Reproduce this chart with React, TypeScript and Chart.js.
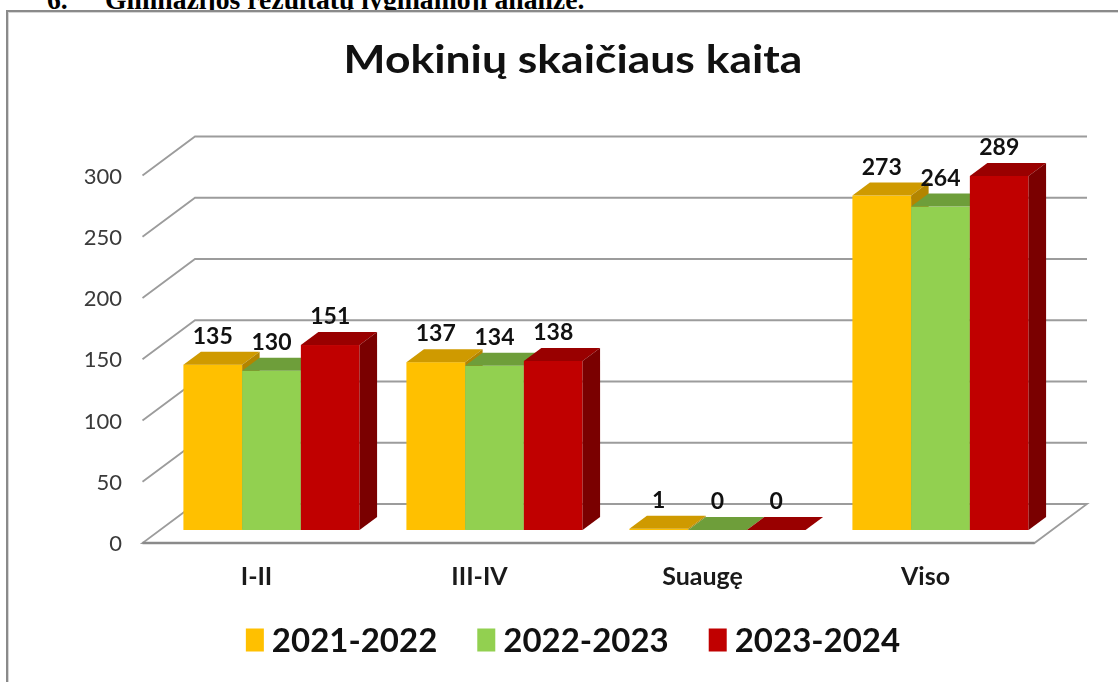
import React, { useEffect, useRef } from "react";
import { Chart, registerables } from "chart.js";

Chart.register(...registerables);

const categories = ["I-II", "III-IV", "Suaugę", "Viso"];
const series2021 = [135, 137, 1, 273];
const series2022 = [130, 134, 0, 264];
const series2023 = [151, 138, 0, 289];
const seriesLabels = ["2021-2022", "2022-2023", "2023-2024"];
const yTicks = [0, 50, 100, 150, 200, 250, 300];
const titleText = "Mokinių skaičiaus kaita";
const headerText = "Gimnazijos rezultatų lyginamoji analizė.";

const frontColors = ["#FFC000", "#92D050", "#C00000"];
const topColors = ["#CF9A00", "#6E9E3A", "#990000"];
const sideColors = ["#B38500", "#5C8A2C", "#7A0000"];

// 3D projection parameters (pixels)
const BAR_DX = 17.5;
const BAR_DY = 13;
const FRONT_DX = -17.5;
const FRONT_DY = 13;
const BACK_DX = 35;
const BACK_DY = -26;
const CENTER_X = 573;

const FONT = "Lato, 'Open Sans', sans-serif";

const bars3d = {
  id: "bars3d",
  beforeDatasetsDraw(chart: any) {
    const ctx = chart.ctx;
    const area = chart.chartArea;
    const ys = chart.scales.y;
    ctx.save();
    // walls & gridlines
    ctx.strokeStyle = "#9c9c9c";
    ctx.lineWidth = 1.8;
    for (const v of yTicks) {
      const yy = ys.getPixelForValue(v);
      if (v === 0) continue;
      ctx.beginPath();
      ctx.moveTo(area.left + FRONT_DX, yy + FRONT_DY);
      ctx.lineTo(area.left + BACK_DX, yy + BACK_DY);
      ctx.lineTo(area.right + BACK_DX, yy + BACK_DY);
      ctx.stroke();
    }
    // floor
    const y0 = ys.getPixelForValue(0);
    ctx.beginPath();
    ctx.moveTo(area.left + FRONT_DX, y0 + FRONT_DY);
    ctx.lineTo(area.right + FRONT_DX, y0 + FRONT_DY);
    ctx.lineTo(area.right + BACK_DX, y0 + BACK_DY);
    ctx.lineTo(area.left + BACK_DX, y0 + BACK_DY);
    ctx.closePath();
    ctx.fillStyle = "#ffffff";
    ctx.fill();
    ctx.stroke();
    ctx.beginPath();
    ctx.strokeStyle = "#8a8a8a";
    ctx.lineWidth = 2.4;
    ctx.moveTo(area.left + FRONT_DX, y0 + FRONT_DY);
    ctx.lineTo(area.right + FRONT_DX, y0 + FRONT_DY);
    ctx.stroke();

    // bars: category by category, left to right
    const n = chart.data.labels.length;
    for (let i = 0; i < n; i++) {
      chart.data.datasets.forEach((ds: any, j: number) => {
        const meta = chart.getDatasetMeta(j);
        const el = meta.data[i];
        if (!el) return;
        const { x, y, base, width } = el.getProps(["x", "y", "base", "width"], true);
        const l = x - width / 2;
        const r = x + width / 2;
        // front
        ctx.fillStyle = frontColors[j];
        ctx.fillRect(l, y, r - l, base - y);
        // top
        ctx.beginPath();
        ctx.moveTo(l, y);
        ctx.lineTo(r, y);
        ctx.lineTo(r + BAR_DX, y - BAR_DY);
        ctx.lineTo(l + BAR_DX, y - BAR_DY);
        ctx.closePath();
        ctx.fillStyle = topColors[j];
        ctx.fill();
        // side
        ctx.beginPath();
        ctx.moveTo(r, y);
        ctx.lineTo(r + BAR_DX, y - BAR_DY);
        ctx.lineTo(r + BAR_DX, base - BAR_DY);
        ctx.lineTo(r, base);
        ctx.closePath();
        ctx.fillStyle = sideColors[j];
        ctx.fill();
      });
    }
    ctx.restore();
    return false;
  },
  afterDraw(chart: any) {
    const ctx = chart.ctx;
    const area = chart.chartArea;
    const ys = chart.scales.y;
    const xs = chart.scales.x;
    ctx.save();
    // title (slightly widened, like the original's Calibri rendering)
    ctx.fillStyle = "#111111";
    ctx.font = `bold 39px ${FONT}`;
    ctx.textAlign = "center";
    ctx.textBaseline = "alphabetic";
    ctx.save();
    ctx.translate(CENTER_X, 73);
    ctx.scale(1.14, 1);
    ctx.fillText(titleText, 0, 0);
    ctx.restore();

    // y tick labels
    ctx.font = `22px ${FONT}`;
    ctx.fillStyle = "#3a3a3a";
    ctx.textAlign = "right";
    ctx.textBaseline = "middle";
    for (const v of yTicks) {
      ctx.fillText(String(v), area.left - 38, ys.getPixelForValue(v) + FRONT_DY + 1);
    }

    // category labels
    ctx.font = `bold 25px ${FONT}`;
    ctx.fillStyle = "#1a1a1a";
    ctx.textAlign = "center";
    ctx.textBaseline = "middle";
    const y0 = ys.getPixelForValue(0);
    chart.data.labels.forEach((lab: string, i: number) => {
      ctx.fillText(lab, xs.getPixelForValue(i) - 15, y0 + FRONT_DY + 34);
    });

    // value labels
    ctx.font = `bold 23px ${FONT}`;
    ctx.fillStyle = "#111111";
    ctx.textBaseline = "alphabetic";
    chart.data.datasets.forEach((ds: any, j: number) => {
      const meta = chart.getDatasetMeta(j);
      meta.data.forEach((el: any, i: number) => {
        const { x, y } = el.getProps(["x", "y"], true);
        ctx.fillText(String(ds.data[i]), x, y - BAR_DY - 8);
      });
    });

    // legend
    ctx.font = `bold 33px ${FONT}`;
    const boxW = 18;
    const boxH = 23;
    const gapBox = 8;
    const gapItem = 40;
    const widths = chart.data.datasets.map((ds: any) => ctx.measureText(ds.label).width);
    const total =
      widths.reduce((a: number, b: number) => a + b, 0) +
      widths.length * (boxW + gapBox) +
      (widths.length - 1) * gapItem;
    let lx = CENTER_X - total / 2;
    const ly = 640;
    ctx.textAlign = "left";
    ctx.textBaseline = "middle";
    chart.data.datasets.forEach((ds: any, j: number) => {
      ctx.fillStyle = frontColors[j];
      ctx.fillRect(lx, ly - boxH / 2, boxW, boxH);
      lx += boxW + gapBox;
      ctx.fillStyle = "#111111";
      ctx.fillText(ds.label, lx, ly + 1);
      lx += widths[j] + gapItem;
    });
    ctx.restore();
  },
};

export default function App() {
  const canvasRef = useRef<HTMLCanvasElement | null>(null);

  useEffect(() => {
    let chart: Chart | null = null;
    let cancelled = false;
    const make = () => {
      if (cancelled || !canvasRef.current) return;
      chart = new Chart(canvasRef.current, {
        type: "bar",
        data: {
          labels: categories,
          datasets: [
            { label: seriesLabels[0], data: series2021, backgroundColor: frontColors[0] },
            { label: seriesLabels[1], data: series2022, backgroundColor: frontColors[1] },
            { label: seriesLabels[2], data: series2023, backgroundColor: frontColors[2] },
          ],
        },
        options: {
          responsive: false,
          animation: false,
          devicePixelRatio: 1,
          layout: { padding: { left: 160, right: 66, top: 162.5, bottom: 152 } },
          datasets: { bar: { categoryPercentage: 0.79, barPercentage: 1.0 } },
          scales: {
            x: { type: "category", display: false },
            y: { min: 0, max: 300, display: false },
          },
          plugins: {
            legend: { display: false },
            title: { display: false },
            tooltip: { enabled: false },
          },
        } as any,
        plugins: [bars3d],
      });
    };
    const fontsReady = (document as any).fonts
      ? Promise.all([
          (document as any).fonts.load(`bold 20px Lato`),
          (document as any).fonts.load(`20px Lato`),
        ]).catch(() => null)
      : Promise.resolve(null);
    fontsReady.then(make);
    return () => {
      cancelled = true;
      if (chart) chart.destroy();
    };
  }, []);

  return (
    <div
      style={{
        position: "fixed",
        left: 0,
        top: 0,
        width: 1118,
        height: 682,
        overflow: "hidden",
        background: "#ffffff",
      }}
    >
      <div
        style={{
          position: "absolute",
          left: 47,
          top: -16,
          font: "bold 27.7px 'Liberation Serif', 'Times New Roman', serif",
          color: "#000",
          whiteSpace: "nowrap",
        }}
      >
        <span style={{ display: "inline-block", width: 58 }}>6.</span>
        {headerText}
      </div>
      <div
        style={{
          position: "absolute",
          left: 6,
          top: 10,
          width: 1200,
          height: 800,
          border: "2px solid #8a8a8a",
          boxShadow: "inset 1px 1px 0 #d6d6d6",
          background: "#ffffff",
        }}
      />
      <canvas
        ref={canvasRef}
        width={1118}
        height={682}
        style={{ position: "absolute", left: 0, top: 0 }}
      />
    </div>
  );
}
